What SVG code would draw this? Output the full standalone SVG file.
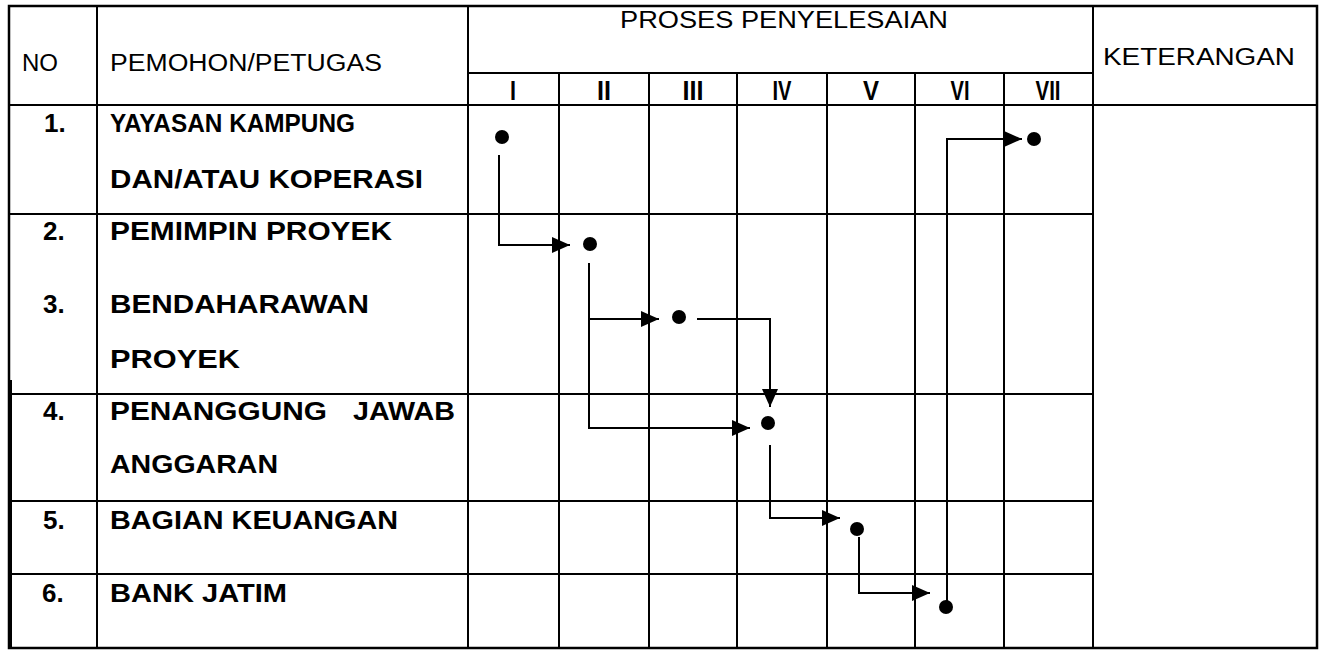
<svg xmlns="http://www.w3.org/2000/svg" width="1320" height="651" viewBox="0 0 1320 651">
<style>
.g{stroke:#000;stroke-width:2;fill:none}
.h{font-family:"Liberation Sans",Arial,sans-serif;font-size:23px;fill:#000}
.r{font-family:"Liberation Sans",Arial,sans-serif;font-size:28px;font-weight:bold;fill:#000}
.b{font-family:"Liberation Sans",Arial,sans-serif;font-size:26px;font-weight:bold;fill:#000}
.c{stroke:#000;stroke-width:2;fill:none;marker-end:url(#ah)}
.d{fill:#000}
</style>
<defs>
<marker id="ah" markerUnits="userSpaceOnUse" markerWidth="20" markerHeight="18" refX="18" refY="8" orient="auto">
<path d="M0,0 L18,8 L0,16 Z" fill="#000"/>
</marker>
</defs>
<rect width="1320" height="651" fill="#fff"/>
<g id="grid" class="g">
<rect x="9" y="6" width="1308" height="642" stroke-width="2.5"/>
<line x1="10" y1="380" x2="10" y2="648" stroke-width="4"/>
<line x1="97" y1="6" x2="97" y2="648"/>
<line x1="468" y1="6" x2="468" y2="648"/>
<line x1="1093" y1="6" x2="1093" y2="648"/>
<line x1="468" y1="73" x2="1093" y2="73"/>
<line x1="559" y1="73" x2="559" y2="648"/>
<line x1="649" y1="73" x2="649" y2="648"/>
<line x1="737" y1="73" x2="737" y2="648"/>
<line x1="827" y1="73" x2="827" y2="648"/>
<line x1="915" y1="73" x2="915" y2="648"/>
<line x1="1004" y1="73" x2="1004" y2="648"/>
<line x1="9" y1="105" x2="1317" y2="105"/>
<line x1="9" y1="214" x2="1093" y2="214"/>
<line x1="9" y1="394" x2="1093" y2="394"/>
<line x1="9" y1="501" x2="1093" y2="501"/>
<line x1="9" y1="574" x2="1093" y2="574"/>
</g>
<g id="header">
<text class="h" x="22" y="71" textLength="36" lengthAdjust="spacingAndGlyphs">NO</text>
<text class="h" x="110" y="71" textLength="272" lengthAdjust="spacingAndGlyphs">PEMOHON/PETUGAS</text>
<text class="h" x="620" y="28" textLength="328" lengthAdjust="spacingAndGlyphs">PROSES PENYELESAIAN</text>
<text class="h" x="1103" y="65" textLength="192" lengthAdjust="spacingAndGlyphs">KETERANGAN</text>
<g text-anchor="middle">
<text class="r" x="513" y="100" textLength="6" lengthAdjust="spacingAndGlyphs">I</text>
<text class="r" x="604" y="100" textLength="14" lengthAdjust="spacingAndGlyphs">II</text>
<text class="r" x="693" y="100" textLength="21" lengthAdjust="spacingAndGlyphs">III</text>
<text class="r" x="782" y="100" textLength="19" lengthAdjust="spacingAndGlyphs">IV</text>
<text class="r" x="871" y="100" textLength="16" lengthAdjust="spacingAndGlyphs">V</text>
<text class="r" x="960" y="100" textLength="19" lengthAdjust="spacingAndGlyphs">VI</text>
<text class="r" x="1048" y="100" textLength="25" lengthAdjust="spacingAndGlyphs">VII</text>
</g>
</g>
<g id="row1">
<text class="b" x="44" y="132">1.</text>
<text class="b" x="110" y="132" textLength="245" lengthAdjust="spacingAndGlyphs">YAYASAN KAMPUNG</text>
<text class="b" x="110" y="188" textLength="313" lengthAdjust="spacingAndGlyphs">DAN/ATAU KOPERASI</text>
</g>
<g id="row2">
<text class="b" x="43" y="240">2.</text>
<text class="b" x="110" y="240" textLength="282" lengthAdjust="spacingAndGlyphs">PEMIMPIN PROYEK</text>
</g>
<g id="row3">
<text class="b" x="43" y="313">3.</text>
<text class="b" x="110" y="313" textLength="259" lengthAdjust="spacingAndGlyphs">BENDAHARAWAN</text>
<text class="b" x="110" y="368" textLength="130" lengthAdjust="spacingAndGlyphs">PROYEK</text>
</g>
<g id="row4">
<text class="b" x="43" y="420">4.</text>
<text class="b" y="420"><tspan x="110" textLength="217" lengthAdjust="spacingAndGlyphs">PENANGGUNG</tspan> <tspan x="353" textLength="102" lengthAdjust="spacingAndGlyphs">JAWAB</tspan></text>
<text class="b" x="110" y="473" textLength="168" lengthAdjust="spacingAndGlyphs">ANGGARAN</text>
</g>
<g id="row5">
<text class="b" x="43" y="529">5.</text>
<text class="b" x="110" y="529" textLength="288" lengthAdjust="spacingAndGlyphs">BAGIAN KEUANGAN</text>
</g>
<g id="row6">
<text class="b" x="42" y="602">6.</text>
<text class="b" x="110" y="602" textLength="177" lengthAdjust="spacingAndGlyphs">BANK JATIM</text>
</g>
<g id="connectors">
<path class="c" d="M499,155 V245 H570"/>
<path class="c" d="M589,263 V428 H750"/>
<path class="c" d="M589,319 H659"/>
<path class="c" d="M697,319 H770 V407"/>
<path class="c" d="M770,445 V518 H840"/>
<path class="c" d="M859,537 V593 H930"/>
<path class="c" d="M947,601 V139 H1022"/>
</g>
<g id="p1"><circle class="d" cx="502" cy="137" r="7"/></g>
<g id="p2"><circle class="d" cx="590" cy="244" r="7"/></g>
<g id="p3"><circle class="d" cx="679" cy="317" r="7"/></g>
<g id="p4"><circle class="d" cx="768" cy="423" r="7"/></g>
<g id="p5"><circle class="d" cx="857" cy="529" r="7"/></g>
<g id="p6"><circle class="d" cx="946" cy="607" r="7"/></g>
<g id="p7"><circle class="d" cx="1034" cy="139" r="7"/></g>
</svg>
